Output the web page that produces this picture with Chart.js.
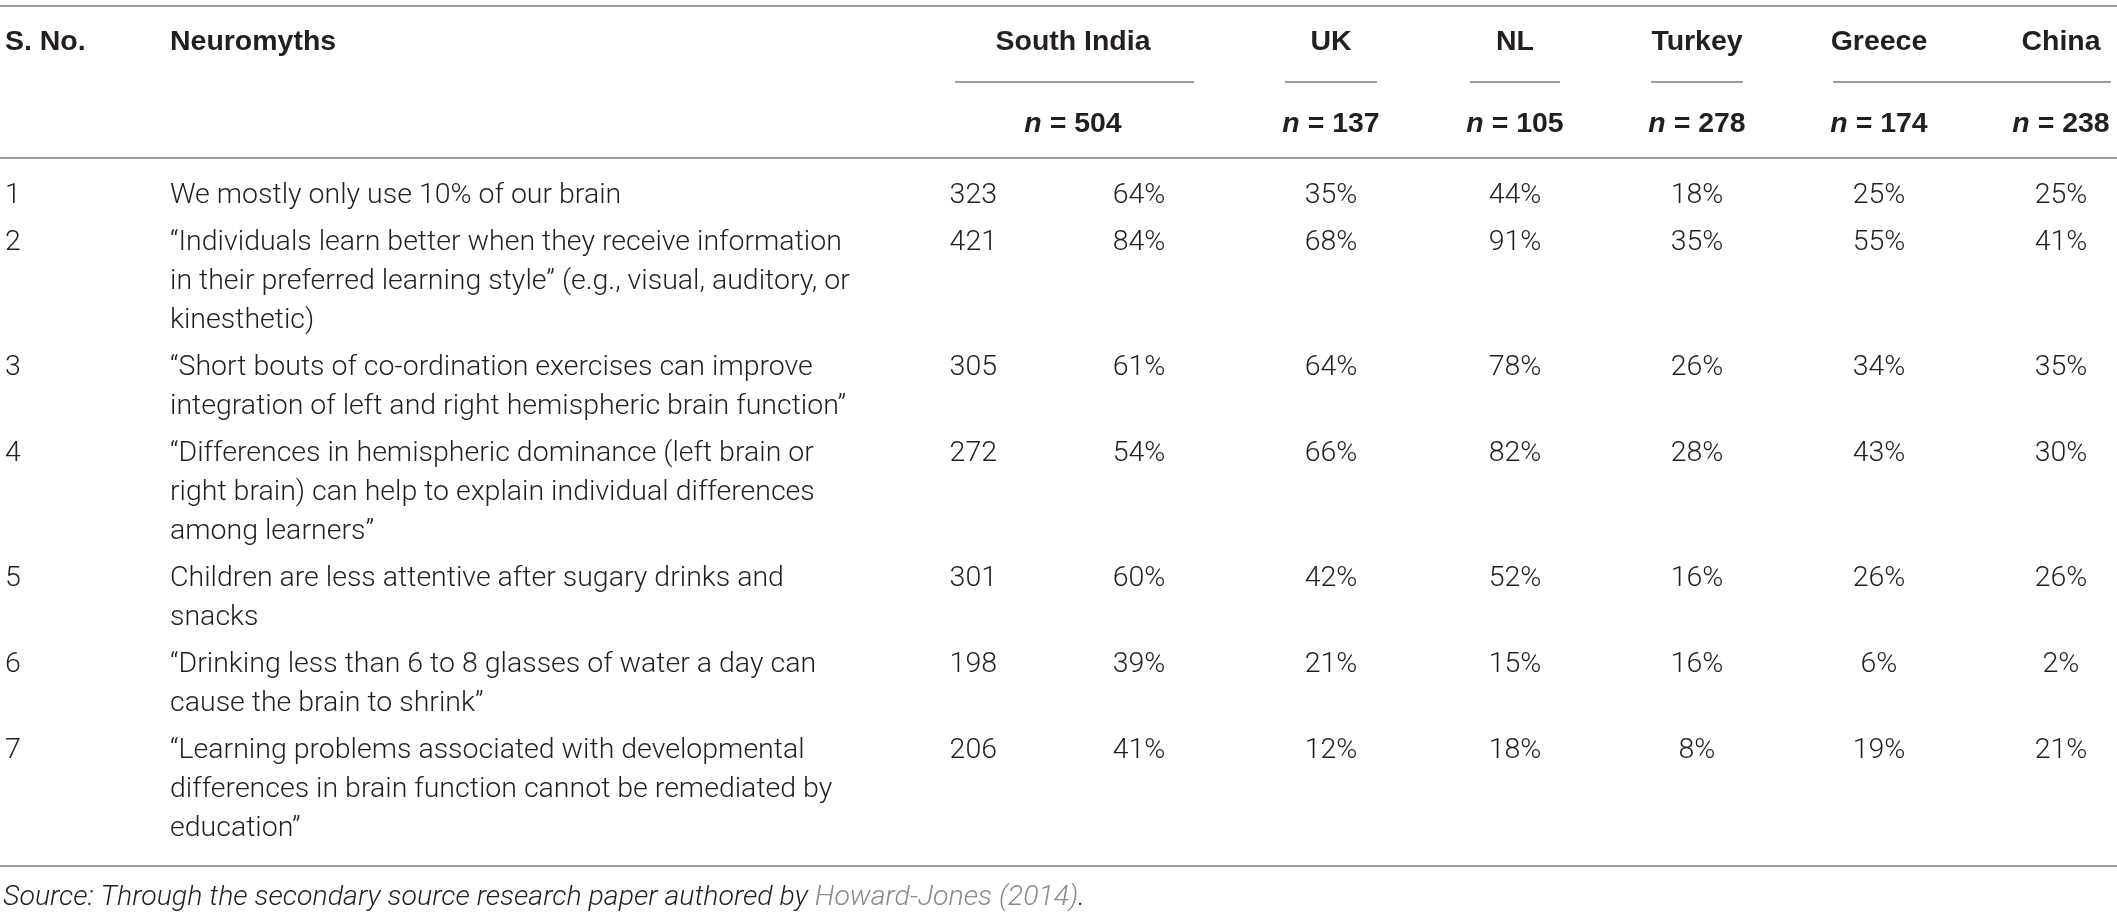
<!DOCTYPE html>
<html>
<head>
<meta charset="utf-8">
<script src="https://cdn.jsdelivr.net/npm/chart.js@4.4.1/dist/chart.umd.min.js"></script>
<style>
  html, body { margin: 0; padding: 0; background: #ffffff; overflow: hidden; }
  #wrap { width: 2117px; height: 917px; position: relative; }
  canvas { display: block; }
</style>
</head>
<body>
<div id="wrap"><canvas id="c" width="2117" height="917"></canvas></div>
<script>
// ---------------- DATA ----------------
const countries = ["South India", "UK", "NL", "Turkey", "Greece", "China"];
const sampleSizes = [504, 137, 105, 278, 174, 238];
const serialNos = [1, 2, 3, 4, 5, 6, 7];
const neuromyths = [
  ["We mostly only use 10% of our brain"],
  ["\u201CIndividuals learn better when they receive information",
   "in their preferred learning style\u201D (e.g., visual, auditory, or",
   "kinesthetic)"],
  ["\u201CShort bouts of co-ordination exercises can improve",
   "integration of left and right hemispheric brain function\u201D"],
  ["\u201CDifferences in hemispheric dominance (left brain or",
   "right brain) can help to explain individual differences",
   "among learners\u201D"],
  ["Children are less attentive after sugary drinks and",
   "snacks"],
  ["\u201CDrinking less than 6 to 8 glasses of water a day can",
   "cause the brain to shrink\u201D"],
  ["\u201CLearning problems associated with developmental",
   "differences in brain function cannot be remediated by",
   "education\u201D"]
];
const southIndiaCounts = [323, 421, 305, 272, 301, 198, 206];
const southIndiaPct = [64, 84, 61, 54, 60, 39, 41];
const ukPct = [35, 68, 64, 66, 42, 21, 12];
const nlPct = [44, 91, 78, 82, 52, 15, 18];
const turkeyPct = [18, 35, 26, 28, 16, 16, 8];
const greecePct = [25, 55, 34, 43, 26, 6, 19];
const chinaPct = [25, 41, 35, 30, 26, 2, 21];
const headerSNo = "S. No.";
const headerMyths = "Neuromyths";
const sourcePrefix = "Source: Through the secondary source research paper authored by ";
const sourceRef = "Howard-Jones (2014)";
const sourceSuffix = ".";

// ---------------- LAYOUT (positions in scale units) ----------------
const W = 2117, H = 917;
const COL = { sno: 5, myth: 170, count: 997, pct: 1139, uk: 1331, nl: 1515, turkey: 1697, greece: 1879, china: 2061 };
const countryCenters = [1073, COL.uk, COL.nl, COL.turkey, COL.greece, COL.china];
const underlines = [[955, 1194], [1285, 1377], [1470, 1560], [1651, 1743], [1833, 2111]];
const Y = { topRule: 6, head1: 42, underline: 82, head2: 124, headRule: 158, source: 898 };
const LINE_H = 39, ROW_GAP = 8, FIRST_ROW = 196;

const rowY = [];
(function () {
  let y = FIRST_ROW;
  neuromyths.forEach(lines => { rowY.push(y); y += lines.length * LINE_H + ROW_GAP; });
})();
const lastRow = neuromyths.length - 1;
const bottomRule = rowY[lastRow] + (neuromyths[lastRow].length - 1) * LINE_H + 37;

const TEXT = '#231f20';
const RULE = '#7c7c7c';
const LINK = '#8a8a8a';
const BODY_FAMILY = '"Roboto", "Liberation Sans", Arial, sans-serif';
const HEAD_FAMILY = '"Liberation Sans", Arial, sans-serif';

// ---------------- DATASETS ----------------
function colDataset(label, xVal, values, fmt, align) {
  return {
    label: label,
    data: values.map((v, i) => ({ x: xVal, y: rowY[i] })),
    texts: values.map(fmt),
    align: align,
    pointRadius: 0, pointHoverRadius: 0, showLine: false
  };
}
const mythPoints = [], mythTexts = [];
neuromyths.forEach((lines, r) => lines.forEach((t, k) => {
  mythPoints.push({ x: COL.myth, y: rowY[r] + k * LINE_H });
  mythTexts.push(t);
}));
const pctFmt = v => v + '%';
const datasets = [
  colDataset('S. No.', COL.sno, serialNos, v => String(v), 'left'),
  { label: 'Neuromyths', data: mythPoints, texts: mythTexts, align: 'left', pointRadius: 0, pointHoverRadius: 0 },
  colDataset('South India n', COL.count, southIndiaCounts, v => String(v), 'right'),
  colDataset('South India %', COL.pct, southIndiaPct, pctFmt, 'center'),
  colDataset('UK', COL.uk, ukPct, pctFmt, 'center'),
  colDataset('NL', COL.nl, nlPct, pctFmt, 'center'),
  colDataset('Turkey', COL.turkey, turkeyPct, pctFmt, 'center'),
  colDataset('Greece', COL.greece, greecePct, pctFmt, 'center'),
  colDataset('China', COL.china, chinaPct, pctFmt, 'center')
];

// ---------------- PLUGIN ----------------
function fitSize(ctx, weight, style, family, text, target) {
  ctx.font = style + ' ' + weight + ' 100px ' + family;
  const w = ctx.measureText(text).width;
  return 100 * target / w;
}
const tablePlugin = {
  id: 'tableText',
  afterDatasetsDraw(chart) {
    const ctx = chart.ctx;
    const xs = chart.scales.x, ys = chart.scales.y;
    const px = v => xs.getPixelForValue(v), py = v => ys.getPixelForValue(v);
    ctx.save();
    const bodySize = fitSize(ctx, 300, 'normal', BODY_FAMILY, neuromyths[1][0], px(842) - px(170));
    const headSize = fitSize(ctx, 700, 'normal', HEAD_FAMILY, countries[0], px(1152) - px(997));
    const bodyFont = 'normal 300 ' + bodySize.toFixed(2) + 'px ' + BODY_FAMILY;
    const headFont = 'normal 700 ' + headSize.toFixed(2) + 'px ' + HEAD_FAMILY;
    const headItal = 'italic 700 ' + headSize.toFixed(2) + 'px ' + HEAD_FAMILY;
    const srcFont = 'italic 300 ' + bodySize.toFixed(2) + 'px ' + BODY_FAMILY;

    // rules
    ctx.strokeStyle = RULE;
    ctx.lineWidth = 1.6;
    const hline = (x0, x1, y) => { ctx.beginPath(); ctx.moveTo(px(x0), py(y)); ctx.lineTo(px(x1), py(y)); ctx.stroke(); };
    hline(0, W, Y.topRule);
    underlines.forEach(u => hline(u[0], u[1], Y.underline));
    hline(0, W, Y.headRule);
    hline(0, W, bottomRule);

    // header
    ctx.fillStyle = TEXT;
    ctx.textBaseline = 'middle';
    ctx.font = headFont;
    ctx.textAlign = 'left';
    ctx.fillText(headerSNo, px(COL.sno), py(Y.head1));
    ctx.fillText(headerMyths, px(COL.myth), py(Y.head1));
    ctx.textAlign = 'center';
    countries.forEach((c, i) => ctx.fillText(c, px(countryCenters[i]), py(Y.head1)));
    sampleSizes.forEach((n, i) => {
      ctx.font = headItal;
      const a = 'n';
      const aw = ctx.measureText(a).width;
      ctx.font = headFont;
      const b = ' = ' + n;
      const bw = ctx.measureText(b).width;
      const x0 = px(countryCenters[i]) - (aw + bw) / 2;
      ctx.textAlign = 'left';
      ctx.font = headItal; ctx.fillText(a, x0, py(Y.head2));
      ctx.font = headFont; ctx.fillText(b, x0 + aw, py(Y.head2));
    });

    // body cells, positioned by the dataset elements
    ctx.font = bodyFont;
    chart.data.datasets.forEach((ds, di) => {
      const meta = chart.getDatasetMeta(di);
      ctx.textAlign = ds.align;
      meta.data.forEach((el, i) => ctx.fillText(ds.texts[i], el.x, el.y));
    });

    // source note
    ctx.font = srcFont;
    ctx.textAlign = 'left';
    let sx = px(3);
    ctx.fillStyle = TEXT; ctx.fillText(sourcePrefix, sx, py(Y.source));
    sx += ctx.measureText(sourcePrefix).width;
    ctx.fillStyle = LINK; ctx.fillText(sourceRef, sx, py(Y.source));
    sx += ctx.measureText(sourceRef).width;
    ctx.fillStyle = TEXT; ctx.fillText(sourceSuffix, sx, py(Y.source));
    ctx.restore();
  }
};

new Chart(document.getElementById('c'), {
  type: 'scatter',
  data: { datasets: datasets },
  options: {
    responsive: false,
    devicePixelRatio: 1,
    animation: false,
    events: [],
    layout: { padding: 0 },
    plugins: { legend: { display: false }, tooltip: { enabled: false } },
    scales: {
      x: { type: 'linear', min: 0, max: W, display: false },
      y: { type: 'linear', min: 0, max: H, reverse: true, display: false }
    }
  },
  plugins: [tablePlugin]
});
</script>
</body>
</html>
